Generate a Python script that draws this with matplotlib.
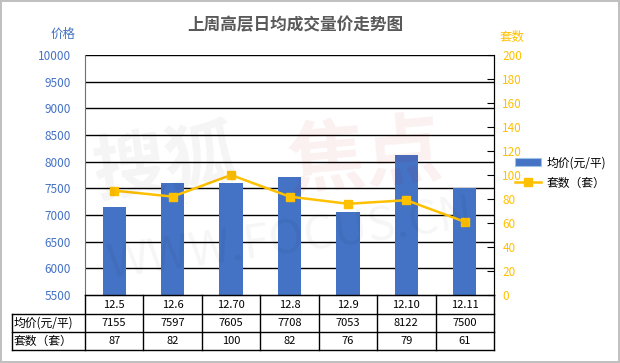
import matplotlib
matplotlib.use("Agg")
import matplotlib.pyplot as plt
from matplotlib.lines import Line2D
from matplotlib.patches import Patch

plt.rcParams['font.family'] = ['Noto Sans CJK SC', 'DejaVu Sans']

categories = ["12.5", "12.6", "12.70", "12.8", "12.9", "12.10", "12.11"]
avg_price = [7155, 7597, 7605, 7708, 7053, 8122, 7500]
units = [87, 82, 100, 82, 76, 79, 61]
left_ticks = list(range(5500, 10001, 500))
right_ticks = list(range(0, 201, 20))

BLUE = "#4472C4"
ORANGE = "#FFC000"
W, H = 620, 363

fig = plt.figure(figsize=(W / 100, H / 100), dpi=100)
fig.patch.set_edgecolor("#c0c0c0")
fig.patch.set_linewidth(1.5)

L, R, T, B = 85, 494, 55, 295
ax = fig.add_axes([L / W, 1 - B / H, (R - L) / W, (B - T) / H])
n = len(categories)
x = list(range(n))

ax.bar(x, [v - 5500 for v in avg_price], bottom=5500, width=0.4, color=BLUE, zorder=3)
ax.set_xlim(-0.5, n - 0.5)
ax.set_ylim(5500, 10000)
ax.set_yticks(left_ticks)
ax.set_yticklabels([str(t) for t in left_ticks], color=BLUE, fontsize=8.5)
ax.tick_params(axis='y', length=0, pad=10)
ax.set_xticks([])
for t in left_ticks[1:]:
    ax.axhline(t, color="black", lw=1, zorder=1)
ax.spines["top"].set_visible(False)
ax.spines["left"].set_color("#6a6aa0")
ax.spines["bottom"].set_color("black")
ax.spines["right"].set_color("black")

ax2 = ax.twinx()
ax2.plot(x, units, color=ORANGE, lw=1.8, marker="s", markersize=5.5, zorder=4)
ax2.set_ylim(0, 200)
ax2.set_yticks(right_ticks)
ax2.set_yticklabels([str(t) for t in right_ticks], color=ORANGE, fontsize=8.5)
ax2.tick_params(axis='y', direction='in', length=5, color="black", pad=6)
ax2.spines["top"].set_visible(False)
ax2.spines["right"].set_color("black")
ax2.spines["left"].set_visible(False)
ax2.spines["bottom"].set_visible(False)

# Title and axis titles
fig.text(295 / W, 1 - 25 / H, "上周高层日均成交量价走势图", ha="center", va="center",
         fontsize=12, fontweight="bold", color="#595959")
fig.text(63 / W, 1 - 34 / H, "价格", ha="center", va="center", fontsize=9, color=BLUE)
fig.text(512 / W, 1 - 37 / H, "套数", ha="center", va="center", fontsize=9, color=ORANGE)

# Watermark
fig.text(165 / W, 1 - 165 / H, "搜狐", ha="center", va="center", fontsize=52,
         color="#000000", alpha=0.045, rotation=8, fontweight="bold")
fig.text(365 / W, 1 - 160 / H, "焦点", ha="center", va="center", fontsize=56,
         color="#c00000", alpha=0.06, rotation=5, fontweight="bold")
fig.text(290 / W, 1 - 240 / H, "WWW.FOCUS.CN", ha="center", va="center", fontsize=34,
         color="#000000", alpha=0.04, rotation=8)

# Table
rows_y = [295, 314, 332, 350]
hdr_left = 12
col_w = (R - L) / n
def fx(px):
    return px / W
def fy(py):
    return 1 - py / H

lines = []
lines.append(([L, R], [rows_y[0], rows_y[0]]))
for yy in rows_y[1:]:
    lines.append(([hdr_left, R], [yy, yy]))
lines.append(([hdr_left, hdr_left], [rows_y[1], rows_y[3]]))
for i in range(n + 1):
    xx = L + i * col_w
    lines.append(([xx, xx], [rows_y[0], rows_y[3]]))
for xs, ys in lines:
    fig.add_artist(Line2D([fx(v) for v in xs], [fy(v) for v in ys], color="black", lw=1))

for i, c in enumerate(categories):
    cx = L + (i + 0.5) * col_w
    fig.text(fx(cx), fy((rows_y[0] + rows_y[1]) / 2), c, ha="center", va="center", fontsize=8, color="black")
    fig.text(fx(cx), fy((rows_y[1] + rows_y[2]) / 2), str(avg_price[i]), ha="center", va="center", fontsize=8, color="black")
    fig.text(fx(cx), fy((rows_y[2] + rows_y[3]) / 2), str(units[i]), ha="center", va="center", fontsize=8, color="black")
fig.text(fx(hdr_left + 2), fy((rows_y[1] + rows_y[2]) / 2), "均价(元/平)", ha="left", va="center", fontsize=8.5)
fig.text(fx(hdr_left + 2), fy((rows_y[2] + rows_y[3]) / 2), "套数（套）", ha="left", va="center", fontsize=8.5)

# Legend
handles = [Patch(facecolor=BLUE, edgecolor="#9dc3e6", linewidth=0.8),
           Line2D([0], [0], color=ORANGE, lw=1.8, marker="s", markersize=5.5)]
fig.legend(handles, ["均价(元/平)", "套数（套）"], loc="center left",
           bbox_to_anchor=(510 / W, 1 - 173 / H), frameon=False, fontsize=8.5,
           handlelength=2.2, handletextpad=0.5, labelspacing=0.6, borderaxespad=0)

fig.savefig("out.png", dpi=100)
